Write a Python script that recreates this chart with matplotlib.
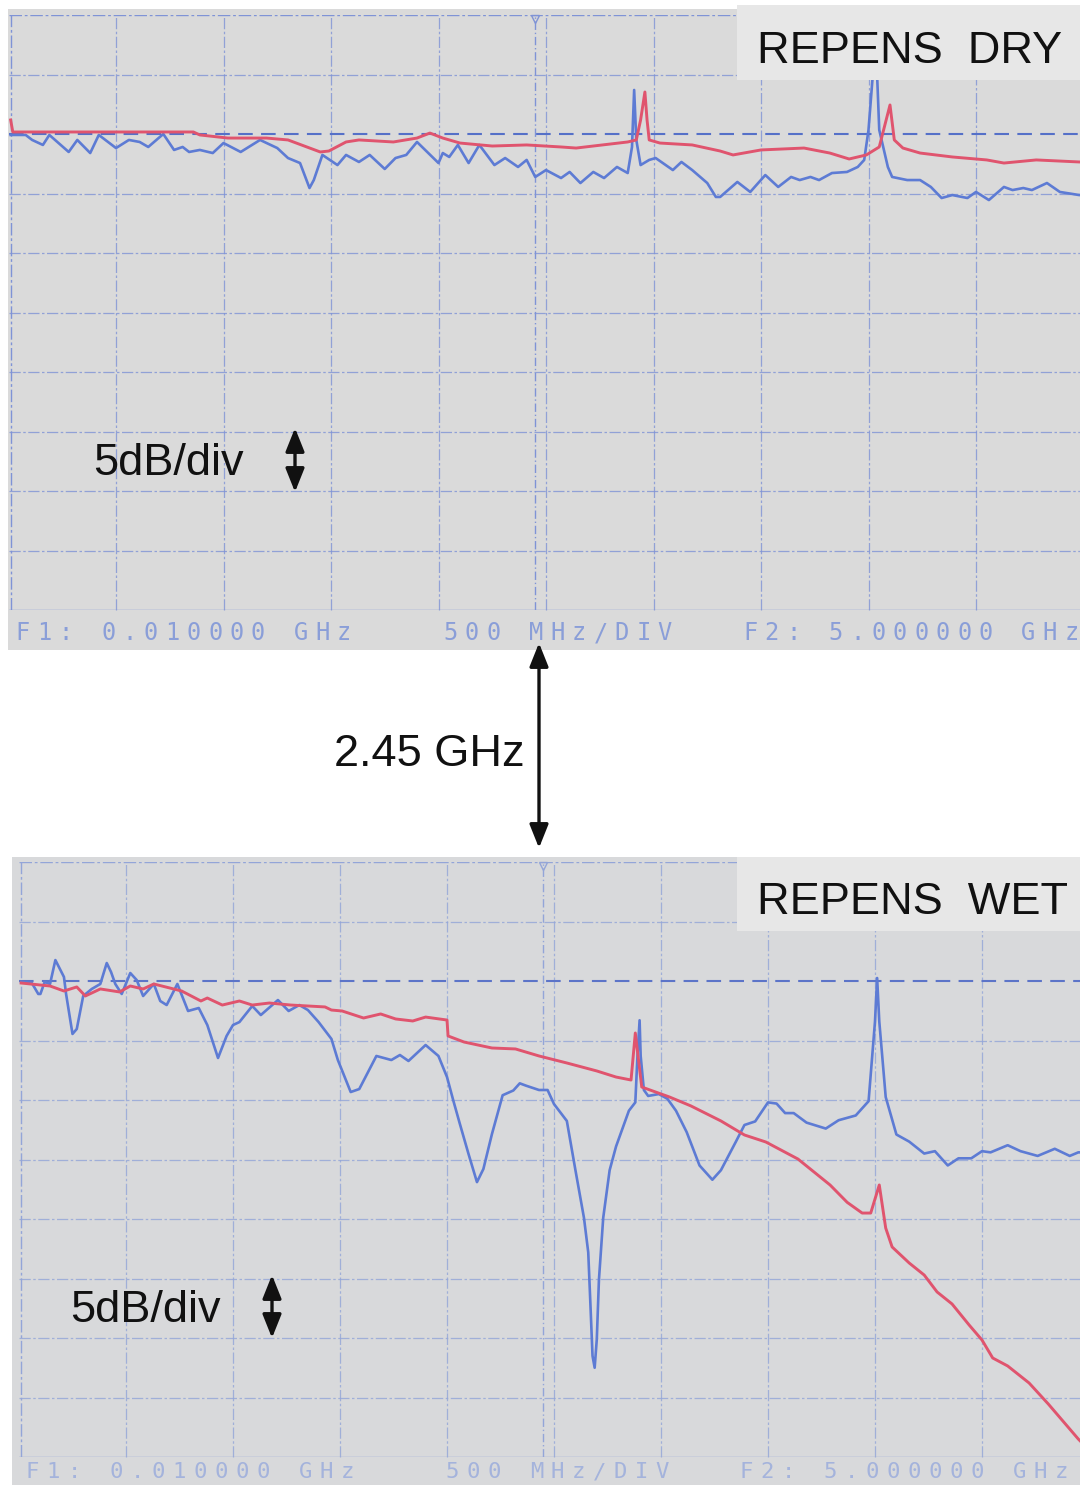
import matplotlib.pyplot as plt
from matplotlib.patches import Rectangle, FancyArrowPatch

W, H = 1080, 1485

# frequency in GHz, level in dB relative to the reference line
dry_red_f = [0.01, 0.02, 0.07, 0.86, 0.89, 1.02, 1.20, 1.30, 1.45, 1.49, 1.57, 1.63, 1.79, 1.90,
             1.96, 2.02, 2.10, 2.25, 2.41, 2.57, 2.64, 2.80, 2.88, 2.92, 2.94, 2.96, 2.97, 2.98,
             3.03, 3.18, 3.31, 3.37, 3.50, 3.70, 3.82, 3.91, 3.99, 4.05, 4.10, 4.12, 4.16, 4.24,
             4.39, 4.55, 4.63, 4.78, 4.98, 5.00]
dry_red_db = [1.18, 0.17, 0.17, 0.17, -0.08, -0.34, -0.34, -0.50, -1.51, -1.43, -0.67, -0.50,
              -0.67, -0.34, 0.08, -0.34, -0.76, -1.01, -0.92, -1.09, -1.18, -0.84, -0.67, -0.50,
              1.18, 3.53, 1.18, -0.50, -0.76, -0.92, -1.43, -1.76, -1.34, -1.18, -1.60, -2.10,
              -1.76, -1.09, 2.44, -0.50, -1.18, -1.60, -1.93, -2.18, -2.44, -2.18, -2.35, -2.35]

dry_blue_f = [0.01, 0.08, 0.11, 0.16, 0.19, 0.28, 0.32, 0.38, 0.42, 0.50, 0.56, 0.61, 0.65, 0.72,
              0.77, 0.81, 0.84, 0.89, 0.95, 1.00, 1.08, 1.17, 1.25, 1.30, 1.356, 1.40, 1.42, 1.46,
              1.53, 1.57, 1.63, 1.68, 1.75, 1.80, 1.85, 1.90, 2.00, 2.02, 2.05, 2.09, 2.14, 2.19,
              2.26, 2.31, 2.37, 2.41, 2.45, 2.50, 2.57, 2.61, 2.66, 2.72, 2.77, 2.83, 2.88, 2.90,
              2.91, 2.92, 2.94, 2.98, 3.01, 3.09, 3.13, 3.18, 3.25, 3.29, 3.31, 3.39, 3.45, 3.52,
              3.58, 3.64, 3.68, 3.73, 3.77, 3.83, 3.90, 3.95, 3.98, 4.00, 4.02, 4.04, 4.05, 4.09,
              4.11, 4.18, 4.24, 4.29, 4.34, 4.39, 4.46, 4.50, 4.56, 4.63, 4.67, 4.72, 4.76, 4.83,
              4.89, 4.98, 5.00]
dry_blue_db = [-0.08, -0.08, -0.50, -0.92, -0.08, -1.51, -0.50, -1.60, -0.08, -1.18, -0.50, -0.67,
               -1.09, 0.00, -1.34, -1.09, -1.51, -1.34, -1.60, -0.76, -1.51, -0.50, -1.18, -2.02,
               -2.44, -4.54, -3.87, -1.76, -2.61, -1.76, -2.35, -1.76, -2.94, -2.02, -1.76, -0.67,
               -2.44, -1.60, -1.93, -0.92, -2.44, -0.92, -2.61, -2.02, -2.77, -2.18, -3.61, -3.03,
               -3.70, -3.19, -4.12, -3.19, -3.70, -2.77, -3.28, -1.09, 3.70, -0.50, -2.61, -2.18,
               -2.02, -3.03, -2.35, -3.03, -4.12, -5.29, -5.29, -4.03, -4.87, -3.45, -4.45, -3.61,
               -3.87, -3.61, -3.87, -3.28, -3.19, -2.77, -2.18, 0.34, 4.96, 4.96, 0.34, -2.77,
               -3.61, -3.87, -3.87, -4.45, -5.38, -5.13, -5.38, -4.87, -5.55, -4.45, -4.71, -4.54,
               -4.71, -4.12, -4.87, -5.13, -5.13]

wet_red_f = [0.01, 0.145, 0.21, 0.27, 0.31, 0.38, 0.47, 0.52, 0.58, 0.63, 0.76, 0.85, 0.88, 0.95,
             1.03, 1.09, 1.17, 1.27, 1.35, 1.43, 1.46, 1.51, 1.61, 1.69, 1.76, 1.84, 1.90, 2.00,
             2.005, 2.08, 2.21, 2.32, 2.43, 2.56, 2.70, 2.79, 2.86, 2.88, 2.91, 3.04, 3.14, 3.28,
             3.39, 3.49, 3.64, 3.79, 3.87, 3.94, 3.98, 4.02, 4.05, 4.08, 4.16, 4.23, 4.29, 4.36,
             4.44, 4.50, 4.55, 4.62, 4.72, 4.81, 4.95, 5.00]
wet_red_db = [-0.17, -0.42, -0.84, -0.50, -1.26, -0.67, -0.92, -0.42, -0.67, -0.25, -0.84, -1.68,
              -1.43, -2.02, -1.68, -2.02, -1.85, -2.02, -2.10, -2.18, -2.44, -2.52, -3.11, -2.77,
              -3.19, -3.36, -3.03, -3.28, -4.62, -5.13, -5.63, -5.71, -6.30, -6.89, -7.56, -8.07,
              -8.32, -4.37, -8.91, -9.75, -10.50, -11.76, -12.94, -13.53, -14.96, -17.14, -18.60,
              -19.50, -19.50, -17.14, -20.76, -22.35, -23.70, -24.71, -26.13, -27.14, -28.91,
              -30.17, -31.68, -32.35, -33.78, -35.55, -38.49, -39.4]

wet_blue_f = [0.01, 0.06, 0.09, 0.10, 0.12, 0.145, 0.17, 0.21, 0.22, 0.25, 0.27, 0.30, 0.34, 0.38,
              0.41, 0.43, 0.45, 0.48, 0.52, 0.55, 0.58, 0.63, 0.66, 0.69, 0.74, 0.79, 0.84, 0.88,
              0.93, 0.97, 1.00, 1.03, 1.09, 1.13, 1.21, 1.26, 1.31, 1.35, 1.40, 1.46, 1.49, 1.55,
              1.59, 1.67, 1.74, 1.78, 1.82, 1.90, 1.96, 2.00, 2.03, 2.06, 2.10, 2.14, 2.17, 2.21,
              2.26, 2.31, 2.34, 2.37, 2.43, 2.47, 2.50, 2.56, 2.60, 2.64, 2.66, 2.67, 2.68, 2.69,
              2.70, 2.71, 2.73, 2.76, 2.79, 2.85, 2.88, 2.89, 2.90, 2.905, 2.92, 2.94, 2.99, 3.03,
              3.07, 3.12, 3.18, 3.24, 3.28, 3.35, 3.39, 3.44, 3.50, 3.54, 3.58, 3.62, 3.68, 3.77,
              3.83, 3.91, 3.97, 4.00, 4.01, 4.02, 4.05, 4.10, 4.16, 4.23, 4.28, 4.34, 4.39, 4.45,
              4.50, 4.54, 4.62, 4.68, 4.76, 4.84, 4.91, 4.95, 5.00]
wet_blue_db = [-0.08, -0.17, -1.09, -1.09, -0.08, -0.25, 1.76, 0.34, -1.09, -4.45, -4.03, -1.26,
               -0.67, -0.25, 1.51, 0.76, -0.25, -1.09, 0.67, 0.08, -1.26, -0.25, -1.68, -2.02,
               -0.25, -2.52, -2.27, -3.70, -6.47, -4.62, -3.70, -3.45, -2.10, -2.86, -1.60, -2.52,
               -2.02, -2.44, -3.45, -4.87, -6.64, -9.33, -9.08, -6.30, -6.64, -6.22, -6.72, -5.38,
               -6.30, -8.07, -10.08, -12.0, -14.5, -16.9, -15.8, -12.86, -9.6, -9.2, -8.6, -8.8,
               -9.16, -9.16, -10.34, -11.76, -15.88, -19.9, -22.8, -27.1, -31.5, -32.5, -30.1,
               -25.1, -19.9, -15.9, -13.9, -10.9, -10.2, -6.3, -3.3, -6.3, -9.16, -9.66, -9.5,
               -9.9, -10.9, -12.7, -15.5, -16.7, -15.9, -13.5, -12.1, -11.8, -10.2, -10.3, -11.1,
               -11.1, -11.9, -12.4, -11.7, -11.3, -10.1, -3.4, 0.25, -3.4, -9.75, -12.9, -13.5,
               -14.5, -14.3, -15.5, -14.9, -14.9, -14.3, -14.4, -13.8, -14.3, -14.7, -14.1, -14.7,
               -14.4, -14.4]

grid_f = [0.5, 1.0, 1.5, 2.0, 2.5, 3.0, 3.5, 4.0, 4.5, 5.0]
grid_db = [5, 0, -5, -10, -15, -20, -25, -30, -35]
marker_f = 2.45

RED = "#e0546e"
BLUE = "#5d7bd4"
plt.rcParams["font.family"] = ["Liberation Sans", "DejaVu Sans"]


def fx(x):
    return x / W


def fy(y):
    return 1 - y / H


def add_rect(fig, x0, y0, x1, y1, color, z):
    fig.patches.append(Rectangle((fx(x0), fy(y1)), (x1 - x0) / W, (y1 - y0) / H,
                                 transform=fig.transFigure, facecolor=color,
                                 edgecolor="none", zorder=z))


def add_arrow(fig, x, y0, y1):
    fig.add_artist(FancyArrowPatch((fx(x), fy(y0)), (fx(x), fy(y1)), transform=fig.transFigure,
                                   arrowstyle="<|-|>,head_length=0.75,head_width=0.3",
                                   mutation_scale=19, lw=2.4, color="#111111",
                                   shrinkA=0, shrinkB=0, zorder=6))


def dot_row(fig, x0, y, text, color, pitch=21.4, size=17):
    # analyzer printout: fixed-pitch characters
    for i, ch in enumerate(text):
        if ch != " ":
            fig.text(fx(x0 + i * pitch + pitch / 2), fy(y), ch, ha="center", va="center",
                     fontsize=size, family="DejaVu Sans Mono", color=color, zorder=3)


def screen(fig, rect, red_f, red_db, blue_f, blue_db, grid_col, ref_col):
    ax = fig.add_axes(rect)
    ax.set_xlim(0, 5)
    ax.set_ylim(-40, 10)
    ax.set_facecolor("none")
    ax.axis("off")
    for f in grid_f:
        ax.axvline(f, color=grid_col, lw=0.9, ls=(0, (9, 2, 2, 2)), alpha=0.8, clip_on=False)
    for d in grid_db:
        if d == 0:
            ax.axhline(d, color=ref_col, lw=1.5, ls=(0, (7, 4)), clip_on=False)
        else:
            ax.axhline(d, color=grid_col, lw=0.9, ls=(0, (9, 2, 2, 2)), alpha=0.8)
    ax.axhline(10, color=grid_col, lw=1.0, ls=(0, (9, 2, 2, 2)))
    ax.axhline(-40, color=grid_col, lw=1.0)
    ax.axvline(0.01, color=grid_col, lw=1.0, ls=(0, (9, 2, 2, 2)))
    ax.axvline(marker_f, color=grid_col, lw=1.0, ls=(0, (6, 2, 1, 2)))
    ax.plot([marker_f], [9.7], marker="v", ms=6, mfc="none", mec=grid_col, clip_on=False)
    ax.plot(blue_f, blue_db, color=BLUE, lw=1.9, solid_joinstyle="round", zorder=3)
    ax.plot(red_f, red_db, color=RED, lw=2.1, solid_joinstyle="round", zorder=4)
    return ax


fig = plt.figure(figsize=(W / 100, H / 100), dpi=100, facecolor="white")

# panel backgrounds
add_rect(fig, 8, 9, 1080, 650, "#dadada", -2)
add_rect(fig, 12, 857, 1080, 1485, "#d8d9db", -2)

screen(fig, [fx(8.5), fy(610), 1075 / W, 595 / H], dry_red_f, dry_red_db, dry_blue_f,
       dry_blue_db, "#7f93d6", "#5570c8")
screen(fig, [fx(19), fy(1457), 1070 / W, 595 / H], wet_red_f, wet_red_db, wet_blue_f,
       wet_blue_db, "#93a5d8", "#5c74c8")

dot_row(fig, 12, 633, "F1: 0.010000 GHz    500 MHz/DIV   F2: 5.000000 GHz", "#8a9ed8")
dot_row(fig, 22, 1472, "F1: 0.010000 GHz    500 MHz/DIV   F2: 5.000000 GHz", "#a4b3dc",
        pitch=21.0, size=16)

# sample labels
add_rect(fig, 737, 5, 1080, 80, "#e7e7e7", 5)
add_rect(fig, 737, 857, 1080, 931, "#e7e7e7", 5)
fig.text(fx(757), fy(63), "REPENS  DRY", fontsize=32.5, color="#111111", va="baseline", zorder=6)
fig.text(fx(757), fy(914), "REPENS  WET", fontsize=32.5, color="#111111", va="baseline", zorder=6)

# scale annotations
fig.text(fx(93), fy(475), "5dB/div", fontsize=32.5, color="#111111", va="baseline", zorder=6)
add_arrow(fig, 295, 428, 492)
fig.text(fx(70), fy(1322), "5dB/div", fontsize=32.5, color="#111111", va="baseline", zorder=6)
add_arrow(fig, 272, 1275, 1338)

# marker frequency between the two screens
add_arrow(fig, 539, 643, 848)
fig.text(fx(525), fy(766), "2.45 GHz", fontsize=32.5, color="#111111", ha="right",
         va="baseline", zorder=6)

fig.savefig("out.png", dpi=100, facecolor="white")
plt.close(fig)
